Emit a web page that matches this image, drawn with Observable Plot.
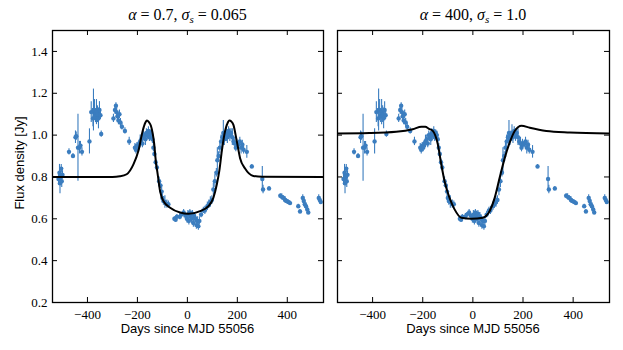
<!DOCTYPE html>
<html><head><meta charset="utf-8">
<script src="https://cdn.jsdelivr.net/npm/d3@7"></script>
<script src="https://cdn.jsdelivr.net/npm/@observablehq/plot@0.6"></script>
<style>
body{margin:0;background:#fff}
#wrap{position:relative;width:623px;height:350px;overflow:hidden;background:#fff}
.panel{position:absolute;top:0}
.t{position:absolute;top:6px;font-family:"Liberation Serif",serif;font-size:16px;white-space:nowrap;transform:translateX(-50%);color:#000}
.t i{font-style:italic}
.t sub{font-size:11px;vertical-align:-3px;line-height:0}
.xl{position:absolute;top:322px;line-height:13px;font-family:"Liberation Sans",sans-serif;font-size:13px;white-space:nowrap;transform:translateX(-50%);color:#000}
.yl{position:absolute;left:19px;top:163px;line-height:13px;font-family:"Liberation Sans",sans-serif;font-size:13px;white-space:nowrap;transform:translate(-50%,-50%) rotate(-90deg);color:#000}
</style></head>
<body>
<div id="wrap"></div>
<script>
// Observations (days since MJD 55056, flux density in Jy, 1-sigma error)
const days = [-516,-512,-510,-507,-505,-503,-500,-474,-458,-448,-445,-438,-432,-428,-422,-392,-385,-376,-378,-372,-368,-364,-360,-356,-352,-348,-345,
  -296,-290,-286,-283,-280,-276,-272,-268,-262,-250,-233,-210,-206,-202,-198,-193,-189,-184,-180,-176,-172,-168,-164,-160,-156,-152,-148,-144,-140,-136,-132,-127,-122,
  -113,-108,-103,-100,-96,-90,-82,-76,-52,-47,-42,-30,-24,-15,-8,-2,2,6,10,13,17,20,24,28,32,36,40,44,48,55,64,70,80,86,92,98,104,110,116,120,125,130,135,140,144,148,152,156,160,165,170,175,180,185,190,194,198,204,210,215,220,225,238,258,
  300,303,327,372,378,385,391,397,404,411,444,451,462,466,470,475,480,484,526,530,534];
const flux = [0.79,0.82,0.77,0.80,0.84,0.78,0.81,0.92,0.90,0.99,0.995,0.94,0.94,0.95,0.92,0.97,1.11,1.12,1.08,1.12,1.09,1.11,1.10,1.08,1.12,1.095,1.005,
  1.08,1.12,1.14,1.11,1.09,1.07,1.10,1.06,1.04,1.02,0.97,0.94,0.93,0.95,0.94,0.96,0.97,0.98,0.96,1.00,0.99,0.98,1.01,1.00,1.02,0.99,1.01,1.00,0.98,0.94,0.91,0.87,0.845,
  0.78,0.76,0.73,0.70,0.685,0.68,0.67,0.67,0.60,0.595,0.61,0.61,0.62,0.63,0.615,0.60,0.62,0.59,0.63,0.61,0.60,0.625,0.58,0.61,0.60,0.57,0.59,0.565,0.59,0.62,0.64,0.64,0.66,0.67,0.68,0.69,0.74,0.78,0.82,0.88,0.90,0.94,0.97,0.99,1.01,0.98,1.00,1.01,0.99,1.02,1.00,1.01,0.99,0.97,0.96,0.94,0.96,0.955,0.97,0.94,0.955,0.93,0.92,0.85,
  0.79,0.74,0.745,0.71,0.705,0.70,0.69,0.685,0.68,0.675,0.66,0.635,0.70,0.685,0.67,0.66,0.645,0.63,0.70,0.69,0.68];
const err = [0.03,0.04,0.05,0.03,0.02,0.03,0.02,0.015,0.012,0.03,0.02,0.16,0.03,0.02,0.02,0.06,0.05,0.10,0.04,0.05,0.03,0.06,0.04,0.05,0.04,0.02,0.015,
  0.02,0.02,0.015,0.02,0.02,0.02,0.02,0.02,0.015,0.015,0.02,0.02,0.02,0.015,0.02,0.015,0.03,0.02,0.02,0.02,0.02,0.03,0.02,0.02,0.02,0.02,0.015,0.02,0.02,0.02,0.015,0.015,0.015,
  0.02,0.015,0.03,0.02,0.02,0.03,0.02,0.015,0.01,0.01,0.01,0.015,0.01,0.015,0.01,0.02,0.02,0.02,0.015,0.02,0.025,0.015,0.02,0.02,0.02,0.02,0.02,0.02,0.02,0.015,0.015,0.02,0.02,0.02,0.025,0.02,0.03,0.03,0.02,0.06,0.02,0.03,0.03,0.02,0.06,0.03,0.02,0.04,0.03,0.02,0.03,0.02,0.04,0.02,0.03,0.02,0.02,0.015,0.02,0.03,0.02,0.02,0.03,0.01,
  0.06,0.02,0.01,0.01,0.015,0.01,0.015,0.01,0.01,0.01,0.01,0.01,0.015,0.02,0.02,0.015,0.015,0.01,0.015,0.015,0.01];

// Model curves
const modelADays = [-540,-300,-270,-243,-216,-196,-179,-168,-162,-154,-146,-133,-125,-121,-109,-96,-69,-29,4,51,84,104,118,128,138,151,160,168,176,184,198,211,231,264,300,540];
const modelAFlux = [0.800,0.800,0.803,0.813,0.860,0.925,1.020,1.060,1.070,1.062,1.045,0.960,0.860,0.830,0.730,0.685,0.653,0.630,0.624,0.637,0.660,0.700,0.765,0.830,0.925,1.020,1.055,1.070,1.065,1.050,0.970,0.890,0.840,0.805,0.801,0.800];
const modelBDays = [-545,-413,-306,-240,-205,-190,-175,-160,-140,-126,-113,-93,-73,-46,-6,40,67,87,107,127,147,167,194,227,293,387,545];
const modelBFlux = [1.008,1.010,1.016,1.028,1.040,1.040,1.030,1.020,0.957,0.860,0.780,0.700,0.645,0.605,0.600,0.605,0.637,0.700,0.797,0.890,0.965,1.020,1.045,1.035,1.020,1.013,1.008];

const xTicks = [-400,-200,0,200,400];
const yTicks = [0.2,0.4,0.6,0.8,1.0,1.2,1.4];
const titles = ['<i>α</i> = 0.7, <i>σ<sub>s</sub></i> = 0.065', '<i>α</i> = 400, <i>σ<sub>s</sub></i> = 1.0'];
const xLabel = "Days since MJD 55056";
const yLabel = "Flux density [Jy]";

const obs = days.map((d,i)=>({d, f: flux[i], lo: flux[i]-err[i], hi: flux[i]+err[i]}));
const modelA = modelADays.map((d,i)=>({d, f: modelAFlux[i]}));
const modelB = modelBDays.map((d,i)=>({d, f: modelBFlux[i]}));

const H = 350, MT = 30, MB = 48;
const FH = H - MT - MB;
const blue = "#3b7dbf";
const serif = "Liberation Serif, serif";

function panel(model, opts){
  const {width, ml, mr, showY} = opts;
  const FW = width - ml - mr;
  const tl = 5;
  return Plot.plot({
    width, height: H, marginTop: MT, marginBottom: MB, marginLeft: ml, marginRight: mr,
    style: {fontFamily: serif, fontSize: "13px", color: "#000", background: "transparent"},
    x: {domain: [-540, 545], ticks: xTicks},
    y: {domain: [0.2, 1.5], ticks: yTicks},
    marks: [
      Plot.ruleX(obs, {x: "d", y1: "lo", y2: "hi", stroke: blue, strokeWidth: 1.1, clip: true}),
      Plot.dot(obs, {x: "d", y: "f", r: 2.2, fill: blue, stroke: "none", clip: true}),
      Plot.line(model, {x: "d", y: "f", stroke: "#000", strokeWidth: 2, curve: "monotone-x", clip: true}),
      Plot.tickX(xTicks, {x: d=>d, insetTop: FH - tl, stroke: "#000", strokeWidth: 1}),
      Plot.tickX(xTicks, {x: d=>d, insetBottom: FH - tl, stroke: "#000", strokeWidth: 1}),
      Plot.tickY(yTicks, {y: d=>d, insetRight: FW - tl, stroke: "#000", strokeWidth: 1}),
      Plot.tickY(yTicks, {y: d=>d, insetLeft: FW - tl, stroke: "#000", strokeWidth: 1}),
      Plot.axisX(xTicks, {tickSize: 0, tickPadding: 7, label: null, fontSize: 13}),
      showY ? Plot.axisY(yTicks, {tickSize: 0, tickPadding: 5, label: null, fontSize: 13, tickFormat: d3.format(".1f")}) : Plot.axisY({ticks: [], label: null}),
      Plot.frame({stroke: "#000", strokeWidth: 1.3})
    ]
  });
}

const wrap = document.getElementById("wrap");
const p1 = panel(modelA, {width: 330, ml: 52, mr: 7, showY: true});
p1.classList.add("panel"); p1.style.left = "0px";
const p2 = panel(modelB, {width: 293, ml: 7, mr: 14, showY: false});
p2.classList.add("panel"); p2.style.left = "330px";
wrap.appendChild(p1); wrap.appendChild(p2);

const centers = [(52 + 323) / 2, 330 + (7 + 279) / 2];
centers.forEach((c, i) => {
  const t = document.createElement("div"); t.className = "t"; t.style.left = c + "px"; t.innerHTML = titles[i]; wrap.appendChild(t);
  const xl = document.createElement("div"); xl.className = "xl"; xl.style.left = c + "px"; xl.textContent = xLabel; wrap.appendChild(xl);
});
const yl = document.createElement("div"); yl.className = "yl"; yl.textContent = yLabel; wrap.appendChild(yl);
</script>
</body></html>
